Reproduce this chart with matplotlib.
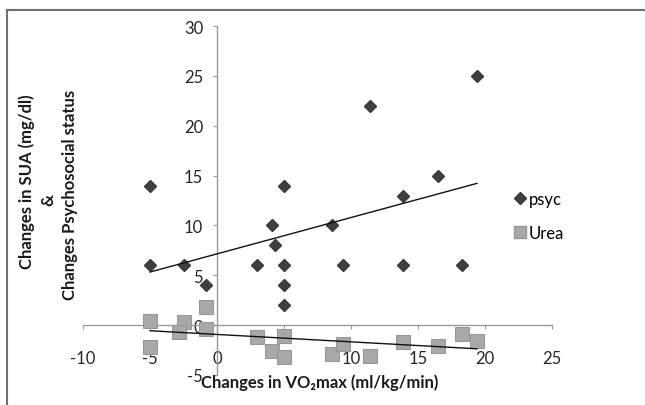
import numpy as np
import matplotlib
matplotlib.use('Agg')
import matplotlib.pyplot as plt
from matplotlib.lines import Line2D

plt.rcParams['font.family'] = ['Lato', 'DejaVu Sans']
plt.rcParams['axes.unicode_minus'] = False

# data
psyc_x = [-5, -5, -2.5, -0.8, 3, 4.1, 4.3, 5, 5, 5, 5, 8.6, 9.4, 11.4, 13.9, 13.9, 16.5, 18.3, 19.4]
psyc_y = [14, 6, 6, 4, 6, 10, 8, 14, 6, 4, 2, 10, 6, 22, 13, 6, 15, 6, 25]
urea_x = [-5, -5, -2.5, -2.8, -0.8, -0.8, 3, 4.1, 5, 5, 8.6, 9.4, 11.4, 13.9, 16.5, 18.3, 19.4]
urea_y = [0.4, -2.2, 0.3, -0.7, 1.8, -0.4, -1.2, -2.6, -1.1, -3.2, -2.9, -1.9, -3.1, -1.7, -2.1, -0.9, -1.6]
xticks = [-10, -5, 0, 5, 10, 15, 20, 25]
yticks = [-5, 0, 5, 10, 15, 20, 25, 30]

W, H = 645, 406
fig = plt.figure(figsize=(W / 100, H / 100), dpi=100)
# axes placed in pixels: x -10..25 -> 83..552, y 30..-5 -> 27..376
ax = fig.add_axes([83 / W, 1 - 376 / H, (552 - 83) / W, (376 - 27) / H])
ax.set_xlim(-10, 25)
ax.set_ylim(-5, 30)

axis_col = '#9a9a9a'
for s in ['top', 'right']:
    ax.spines[s].set_visible(False)
ax.spines['left'].set_position(('data', 0))
ax.spines['bottom'].set_position(('data', 0))
for s in ['left', 'bottom']:
    ax.spines[s].set_color(axis_col)
    ax.spines[s].set_linewidth(1.0)
ax.set_xticks(xticks)
ax.set_yticks(yticks)
ax.tick_params(axis='x', direction='out', length=3, color=axis_col, pad=15, labelsize=12, labelcolor='#262626')
ax.tick_params(axis='y', direction='out', length=3, color=axis_col, pad=7, labelsize=12, labelcolor='#262626')

# markers
ax.plot(urea_x, urea_y, linestyle='none', marker='s', ms=9.5, mfc='#a8a8a8', mec='#989898', mew=0.8, label='Urea', zorder=3)
ax.plot(psyc_x, psyc_y, linestyle='none', marker='D', ms=6.5, mfc='#3f3f3f', mec='#3a3a3a', label='psyc', zorder=4)

# linear trendlines
for xs, ys in [(psyc_x, psyc_y), (urea_x, urea_y)]:
    k, b = np.polyfit(xs, ys, 1)
    xx = np.array([min(xs), max(xs)])
    ax.plot(xx, k * xx + b, color='#111111', lw=1.0, zorder=5)

# legend
h_psyc = Line2D([], [], linestyle='none', marker='D', ms=6.5, mfc='#3f3f3f', mec='#3a3a3a')
h_urea = Line2D([], [], linestyle='none', marker='s', ms=9, mfc='#a8a8a8', mec='#989898')
fig.legend([h_psyc, h_urea], ['psyc', 'Urea'], loc='center left',
           bbox_to_anchor=(507 / W, 1 - 217 / H), frameon=False, fontsize=12,
           handlelength=0.6, handletextpad=0.2, labelspacing=1.1, borderpad=0)

# axis titles
fig.text(320 / W, 1 - 383 / H, 'Changes in VO\u2082max (ml/kg/min)', ha='center', va='center',
         fontsize=12, fontweight='bold', color='#1a1a1a')
fig.text(27 / W, 1 - 182 / H, 'Changes in SUA (mg/dl)', rotation=90, ha='center', va='center',
         fontsize=12, fontweight='bold', color='#1a1a1a')
fig.text(48 / W, 1 - 200 / H, '&', rotation=90, ha='center', va='center',
         fontsize=12, fontweight='bold', color='#1a1a1a')
fig.text(70 / W, 1 - 195 / H, 'Changes Psychosocial status', rotation=90, ha='center', va='center',
         fontsize=12, fontweight='bold', color='#1a1a1a')

# chart border (left and top edges visible)
fig.add_artist(Line2D([7 / W, 7 / W], [0, 1 - 11 / H], transform=fig.transFigure, color='#707070', lw=1.5))
fig.add_artist(Line2D([7 / W, 1], [1 - 11 / H, 1 - 11 / H], transform=fig.transFigure, color='#707070', lw=1.5))

fig.savefig('out.png', dpi=100)
